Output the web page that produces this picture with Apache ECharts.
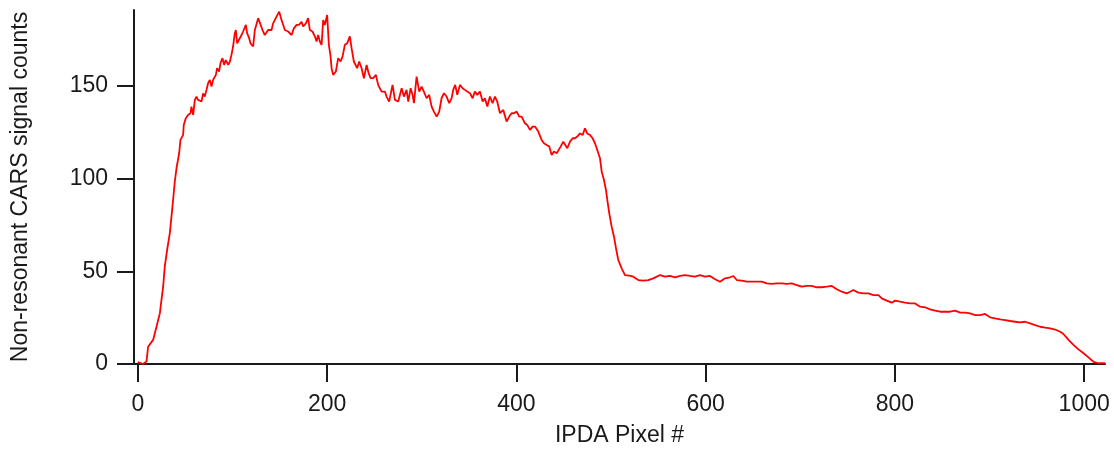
<!DOCTYPE html>
<html>
<head>
<meta charset="utf-8">
<script src="https://cdn.jsdelivr.net/npm/echarts@6/dist/echarts.min.js"></script>
<style>
html,body{margin:0;padding:0;background:#fff;}
#c{width:1114px;height:456px;}
</style>
</head>
<body>
<div id="c"></div>
<script>
const pixel = [0,5.6,9.2,10.9,16.2,19.7,23.3,25,26.8,28.5,31,33.8,35.6,37.3,39.1,40.9,43.7,45.1,47.9,48.6,50.7,53.2,55.7,56.7,58.5,60.3,62,63.7,65.5,67.3,69,70.8,72.6,74.3,76.1,77.9,79.6,82.5,83.8,85.9,87.4,89.5,91.2,93,95.5,97.3,99,100.7,102.5,103.6,105,107,109.6,111.3,114.2,115.5,117.7,119.1,121.9,123.7,127.2,129,131.8,134.2,137.7,141.3,143,146.6,149.4,151.9,153.6,155.4,158.9,162.5,164.9,167.8,170.5,173,174.7,177.6,180,181.8,184.6,187.1,188.9,190.6,192.4,194.2,195.9,197.7,200.1,201.9,203.7,204.8,206.4,209.3,211.7,214.3,216.4,218.8,221.2,224.1,225.9,228.3,230.4,231.8,233.9,236.5,238.9,241.8,243.9,246,248.7,251.6,254,257.6,261.1,262.9,265.6,269.2,271.7,275.2,278.8,281.2,284,285.8,288.3,290.4,291.8,294.6,297.4,299.9,302.3,305.2,307.9,310.5,312.9,315.8,318.5,321,323.5,326.3,329.1,331.6,333.3,335.4,337.6,340.4,343.2,345.7,348.1,351,353.8,356.2,358.7,361.5,364.4,366.8,369.3,372.1,374.9,377.4,379.8,382.7,386.2,389.7,392.5,395,397.5,400.3,403.1,405.6,409.1,411.5,414.4,417.2,419.7,423.2,426.7,429.2,432,434.8,437.3,439.7,442.6,444.3,446.8,449.6,451.4,453.8,456.7,459.5,461.9,464.4,467.2,470.1,472.5,474.9,477.8,480.6,483.1,485.5,488.4,490.2,492.6,494.7,496.1,498.2,500.7,503.2,505.3,507.7,511.3,514.8,519.3,523.6,528.9,534.2,539.4,544.7,551.8,557.1,562.4,567.7,573,578.2,583.5,588.8,594.1,599.4,604.7,610,615.2,620.5,625.8,629.3,632.9,638.2,643.4,648.7,654,659.3,664.6,669.9,675.1,680.4,685.7,691,696.3,701.6,706.8,712.1,717.4,722.7,728,733.3,738.6,743.9,749.1,752.6,756.1,761.4,766.7,772,777.3,782.6,786.1,791.4,796.7,800.2,805.5,810.8,816.1,821.4,826.6,831.9,837.2,842.5,847.8,853.1,858.4,863.6,868.9,874.2,879.5,884.8,890.1,895.3,900.6,905.9,911.2,916.5,921.8,927.1,932.3,937.6,942.9,948.2,953.5,958.8,964.1,969.3,974.6,978.1,983.4,988.7,994,999.3,1004.5,1009.8,1015.1,1022];
const counts = [1,0,1.3,9.3,13,20,27.3,34.5,41.7,52.5,61.5,70.5,79.5,88.5,98.4,105.6,113.7,120.9,123.6,129,132.6,134.4,135.3,138.9,134.4,142.5,144.3,142.5,142.5,141.6,146,144.3,147.9,151.5,153.3,149.7,153.3,156,159.6,157.8,162.3,165,161.4,164,161.4,163.2,166.8,171.3,178.5,180.2,173,174,177.5,179.4,183,178.5,175.8,173,171.3,180.2,186.6,187.4,180.2,177.5,180.2,180.2,183.8,187.4,190.1,185.6,183,180.2,179.4,177.5,181.1,183,183,184.7,182.1,183.8,186.6,180.2,179.4,176.8,174,177.5,174,172.2,185.6,183,188.3,172.2,166,159.6,156,157.8,165,163.2,166,172.2,173,176.8,170.4,163.2,164,159.6,163.2,159.6,154.2,161.4,156.9,154.2,154.2,156,150.6,147,147,144.3,141.6,150.6,142.5,141.6,148.8,144.3,147.9,141.6,148.8,145.2,140.7,155.1,147,149.7,147,143.4,145.2,138.9,136.2,133.5,136.2,143.4,146.1,144.3,140.7,143.4,147.9,150.6,145.2,150.6,148.8,147.9,147,146.1,143.4,147,145.2,147,141.6,143.4,138.9,144.3,140.7,144.3,141.6,135.3,137.1,130.8,133.5,135.3,135.3,136.2,133.5,133.5,129.9,129,126.3,128.1,128.1,125.4,120.9,119.1,118.2,117.3,112.8,114.6,113.7,112.8,117.3,120,119.1,116.4,120,121.8,121.8,122.7,124.4,123.6,127.2,124.4,123.6,121.8,119.1,115.5,111,103.8,99.3,93.9,88.5,81.3,74.1,68.7,62.4,56.1,51.6,48,47.7,47.1,45.3,45,45.3,46.2,48,47.1,47.5,46.8,47.5,48,47.5,47.1,48,47.1,47.5,45.7,44.4,46.2,46.8,47.5,45.3,45,44.4,44.4,44.4,44.4,43.5,43.2,43.5,43.5,43.2,43.5,42.6,41.7,42.1,42.1,41.4,41.4,41.7,42.1,40.3,39,38.1,39,39.9,38.5,38.1,38.1,37.2,37.2,35.4,34.2,33.1,34.2,33.6,33.1,32.7,32.7,30.9,30.6,29.5,28.8,28.2,28.2,28.2,28.8,27.7,27.7,27.3,26.4,26.4,27,25.2,24.6,24.1,23.7,23.2,22.8,22.4,22.8,21.9,21,20.1,19.6,19.2,18.6,17.4,16.2,13,10.3,7.9,5.8,3.6,1.2,0.4,0.4];
const xTicks = [0,200,400,600,800,1000];
const yTicks = [0,50,100,150];
const xTitle = 'IPDA Pixel #';
const yTitle = 'Non-resonant CARS signal counts';

const FONT = 'Liberation Sans, Arial, sans-serif';
const INK = '#1a1a1a';
const chart = echarts.init(document.getElementById('c'), null, {renderer: 'canvas'});
chart.setOption({
  animation: false,
  backgroundColor: '#ffffff',
  grid: {left: 134, right: 9, top: 10, bottom: 92, containLabel: false},
  xAxis: {
    type: 'value', min: -4, max: 1022,
    name: xTitle, nameLocation: 'middle', nameGap: 60,
    nameTextStyle: {fontFamily: FONT, fontSize: 23, color: INK},
    axisLine: {show: true, onZero: false, lineStyle: {color: INK, width: 2}},
    axisTick: {show: true, inside: false, length: 18, customValues: xTicks, lineStyle: {color: INK, width: 2}},
    axisLabel: {customValues: xTicks, margin: 29, fontFamily: FONT, fontSize: 23, color: INK, formatter: v => String(v)},
    splitLine: {show: false}
  },
  yAxis: {
    type: 'value', min: 0, max: 191,
    name: yTitle, nameLocation: 'middle', nameGap: 102, nameRotate: 90,
    nameTextStyle: {fontFamily: FONT, fontSize: 23, color: INK},
    axisLine: {show: true, onZero: false, lineStyle: {color: INK, width: 2}},
    axisTick: {show: true, inside: false, length: 17, customValues: yTicks, lineStyle: {color: INK, width: 2}},
    axisLabel: {customValues: yTicks, margin: 26, fontFamily: FONT, fontSize: 23, color: INK, formatter: v => String(v)},
    splitLine: {show: false}
  },
  series: [{
    type: 'line',
    data: pixel.map((p, i) => [p, counts[i]]),
    showSymbol: false,
    symbol: 'none',
    lineStyle: {color: '#ff0000', width: 1.8},
    clip: false
  }]
});
</script>
</body>
</html>
